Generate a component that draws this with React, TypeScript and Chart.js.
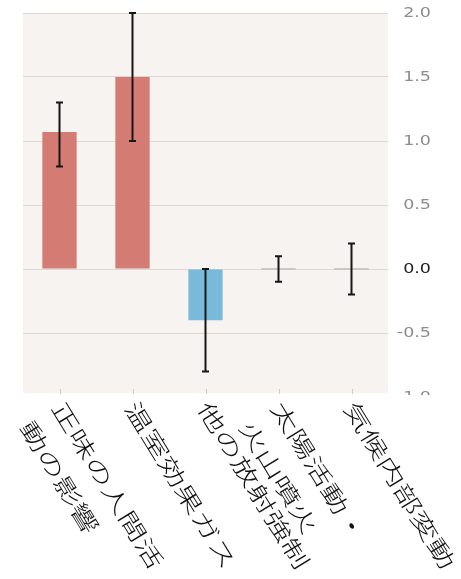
import React, { useEffect, useRef } from "react";
import { Chart, registerables } from "chart.js";

Chart.register(...registerables);

// Contributions to observed warming (°C), with likely ranges
const CATEGORIES: string[][] = [
  ["正味の人間活", "動の影響"],
  ["温室効果ガス"],
  ["他の放射強制"],
  ["太陽活動・", "火山噴火"],
  ["気候内部変動"],
];
const VALUES = [1.07, 1.5, -0.4, 0.0, 0.0];
const RANGE_LOW = [0.8, 1.0, -0.8, -0.1, -0.2];
const RANGE_HIGH = [1.3, 2.0, 0.0, 0.1, 0.2];
const Y_MIN = -1.0;
const Y_MAX = 2.0;
const Y_STEP = 0.5;

const WARM = "#d47c74";
const COOL = "#79badb";
const NEUTRAL = "#cdc7c3";
const PANEL = "#f6f3f1";

const barColor = (v: number) => (v > 0 ? WARM : v < 0 ? COOL : NEUTRAL);

const overlay = {
  id: "overlay",
  beforeDraw(chart: any) {
    const { ctx, chartArea } = chart;
    ctx.save();
    ctx.fillStyle = PANEL;
    ctx.fillRect(chartArea.left, chartArea.top, chartArea.right - chartArea.left, chartArea.bottom - 4 - chartArea.top);
    ctx.restore();
  },
  afterDatasetsDraw(chart: any) {
    const { ctx } = chart;
    const y = chart.scales.y;
    const meta = chart.getDatasetMeta(0);
    ctx.save();
    ctx.strokeStyle = "#161616";
    ctx.lineWidth = 2;
    meta.data.forEach((bar: any, i: number) => {
      const x = bar.x;
      const top = y.getPixelForValue(RANGE_HIGH[i]);
      const bot = y.getPixelForValue(RANGE_LOW[i]);
      ctx.beginPath();
      ctx.moveTo(x, top);
      ctx.lineTo(x, bot);
      ctx.moveTo(x - 3.5, top);
      ctx.lineTo(x + 3.5, top);
      ctx.moveTo(x - 3.5, bot);
      ctx.lineTo(x + 3.5, bot);
      ctx.stroke();
    });
    ctx.restore();
  },
  afterDraw(chart: any) {
    const { ctx, chartArea, width, height } = chart;
    const xs = chart.scales.x;
    const ys = chart.scales.y;

    // value axis labels on the right
    ctx.save();
    ctx.font = '14px "DejaVu Sans"';
    ctx.textAlign = "right";
    ctx.textBaseline = "middle";
    ys.ticks.forEach((t: any) => {
      const py = ys.getPixelForValue(t.value);
      ctx.save();
      ctx.translate(431, py);
      ctx.scale(1.25, 1);
      ctx.fillStyle = t.value === 0 ? "#222222" : "#8c8c8c";
      ctx.fillText(t.value.toFixed(1), 0, 0);
      ctx.restore();
    });
    ctx.restore();

    // clear the strip below the panel
    const stripTop = chartArea.bottom - 2;
    ctx.save();
    ctx.fillStyle = "#ffffff";
    ctx.fillRect(0, stripTop, width, height - stripTop);
    ctx.restore();

    // category tick marks
    ctx.save();
    ctx.strokeStyle = "#cfcac6";
    ctx.lineWidth = 1;
    CATEGORIES.forEach((_, i) => {
      const px = Math.round(xs.getPixelForValue(i)) + 0.5;
      ctx.beginPath();
      ctx.moveTo(px, chartArea.bottom - 8);
      ctx.lineTo(px, chartArea.bottom - 3);
      ctx.stroke();
    });
    ctx.restore();

    // rotated category labels
    const angle = (58.5 * Math.PI) / 180;
    const stretch = 1.45;
    const lead = 10;
    const lineGap = 37;
    ctx.save();
    ctx.font = '300 22px "Noto Sans CJK JP"';
    ctx.fillStyle = "#111111";
    ctx.textAlign = "left";
    ctx.textBaseline = "middle";
    CATEGORIES.forEach((lines, i) => {
      const ax = xs.getPixelForValue(i) - 7;
      const ay = chartArea.bottom - 2;
      ctx.save();
      ctx.translate(ax, ay);
      ctx.rotate(angle);
      lines.forEach((line, j) => {
        ctx.save();
        ctx.translate(0, j * lineGap);
        ctx.scale(stretch, 1);
        ctx.fillText(line, lead / stretch, 0);
        ctx.restore();
      });
      ctx.restore();
    });
    ctx.restore();
  },
};

export default function App() {
  const ref = useRef<HTMLCanvasElement | null>(null);

  useEffect(() => {
    if (!ref.current) return;
    const chart = new Chart(ref.current, {
      type: "bar",
      data: {
        labels: CATEGORIES.map((l) => l.join("")),
        datasets: [
          {
            data: VALUES,
            backgroundColor: VALUES.map(barColor),
            borderWidth: 0,
            barPercentage: 0.47,
            categoryPercentage: 1,
            minBarLength: 2,
          },
        ],
      },
      options: {
        responsive: false,
        animation: false,
        layout: { padding: { left: 23, right: 73, top: 13, bottom: 182 } },
        plugins: { legend: { display: false }, tooltip: { enabled: false } },
        scales: {
          x: { display: false },
          y: {
            position: "right",
            min: Y_MIN,
            max: Y_MAX,
            ticks: { display: false, stepSize: Y_STEP },
            grid: { color: "#dcd8d5", lineWidth: 1, drawTicks: false },
            border: { display: false },
            afterFit: (s: any) => {
              s.width = 0;
            },
          },
        },
      },
      plugins: [overlay],
    });
    return () => chart.destroy();
  }, []);

  return (
    <div style={{ position: "fixed", left: 0, top: 0, width: 461, height: 579, background: "#ffffff" }}>
      <canvas ref={ref} width={461} height={579} />
    </div>
  );
}
